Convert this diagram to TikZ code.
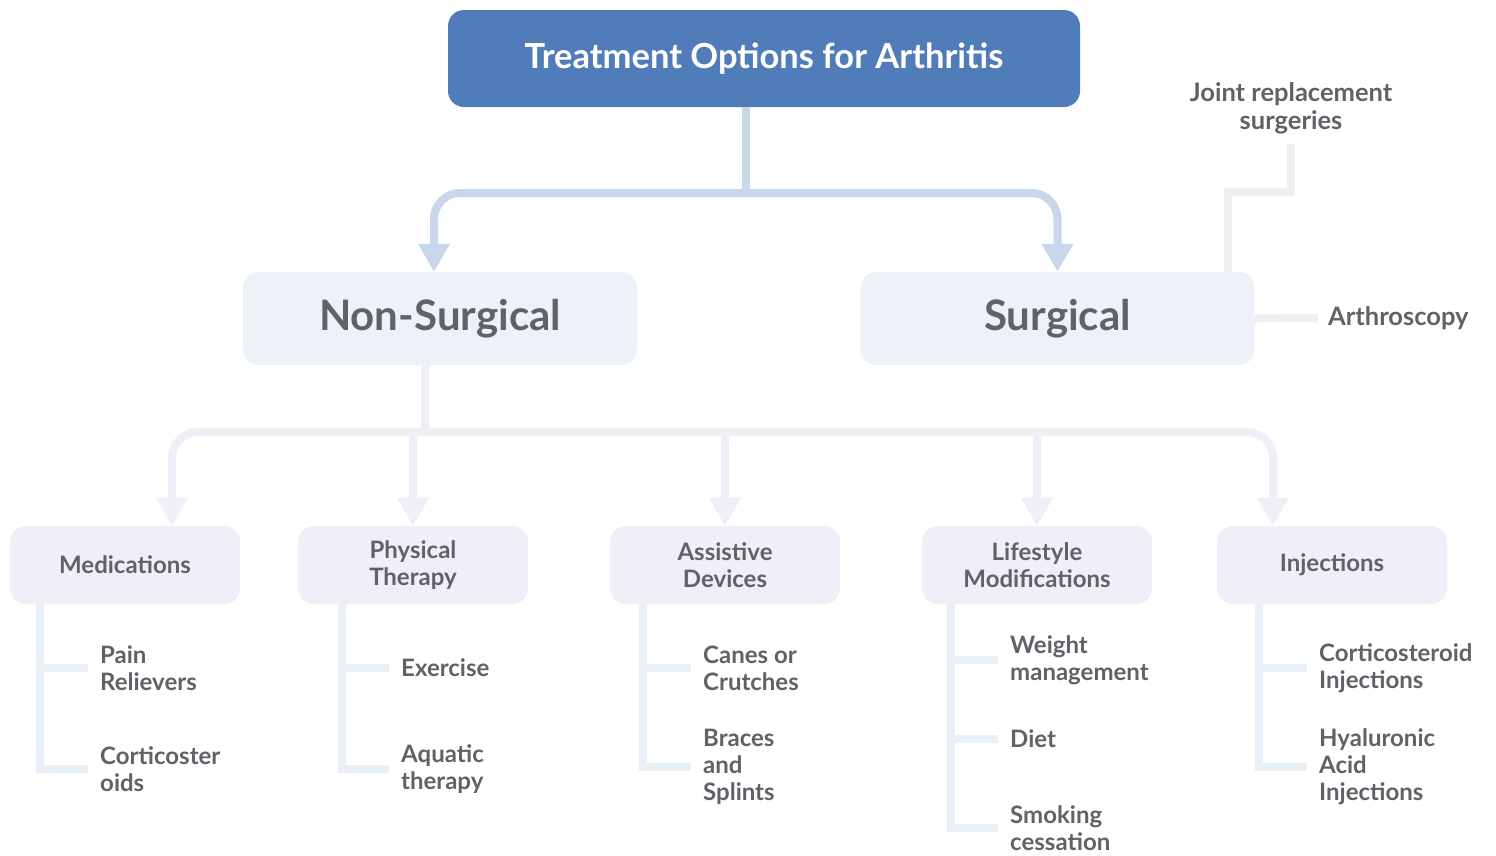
\documentclass[tikz,border=0pt]{standalone}
\usepackage{fontspec}
\setmainfont{Lato}
\usetikzlibrary{positioning,calc,arrows.meta}
\definecolor{titleblue}{HTML}{507CBA}
\definecolor{busblue}{HTML}{C8D7EA}
\definecolor{boxblue}{HTML}{EDF1F8}
\definecolor{lavender}{HTML}{F0EEF7}
\definecolor{leafblue}{HTML}{EAF0F8}
\definecolor{surgline}{HTML}{EFEFEF}
\definecolor{txtgrey}{HTML}{5F6368}
\tikzset{>={Triangle[width=30pt,length=28pt]}}

\begin{document}
\begin{tikzpicture}[x=1pt,y=-1pt,
  titlebox/.style={fill=titleblue,rounded corners=16pt,minimum width=632pt,minimum height=97pt,text=white,font=\bfseries\fontsize{34.5}{40}\selectfont},
  mainbox/.style={fill=boxblue,rounded corners=16pt,minimum width=394pt,minimum height=93pt,text=txtgrey,font=\bfseries\fontsize{42}{48}\selectfont},
  subbox/.style={fill=lavender,rounded corners=16pt,minimum width=230pt,minimum height=78pt,text=txtgrey,align=center,font=\bfseries\fontsize{24}{27}\selectfont},
  leaf/.style={anchor=west,inner sep=0pt,text=txtgrey,align=left,font=\bfseries\fontsize{24}{27}\selectfont},
  sidetxt/.style={inner sep=0pt,text=txtgrey,align=center,font=\bfseries\fontsize{25.5}{28}\selectfont},
  busline/.style={draw=busblue,line width=8pt,rounded corners=26pt},
  lavline/.style={draw=lavender,line width=8pt,rounded corners=26pt},
  leafline/.style={draw=leafblue,line width=8pt},
  greyline/.style={draw=surgline,line width=8pt}]
\useasboundingbox[fill=white] (0,0) rectangle (1496,855);

\node[titlebox] (title) at (764,58.5) {Treatment Options for Arthritis};
\node[mainbox] (nonsurg) at (440,318.5) {Non-Surgical};
\node[mainbox] (surg) at (1057.5,318.5) {Surgical};

\coordinate (top) at (746,193);
\draw[busline] (title.south -| top) -- (top);
\draw[busline,->] (top) -| ([xshift=-6pt]nonsurg.north);
\draw[busline,->] (top) -| (surg.north);

\node[sidetxt] (joint) at (1291,108) {Joint replacement\\surgeries};
\node[sidetxt,anchor=west] (arth) at (1328,318) {Arthroscopy};
\draw[greyline] ([xshift=170pt]surg.north) |- ([yshift=-58pt]joint.south) -- ([yshift=-10pt]joint.south);
\draw[greyline] (surg.east) -- ([xshift=-10pt]arth.west);

\node[subbox] (med) at (125,565) {Medications};
\node[subbox] (phys) at (413,565) {Physical\\Therapy};
\node[subbox] (assist) at (725,565) {Assistive\\Devices};
\node[subbox] (life) at (1037,565) {Lifestyle\\Modifications};
\node[subbox] (inj) at (1332,565) {Injections};

\coordinate (bus) at (425,432);
\draw[lavline] (nonsurg.south -| bus) -- (bus);
\draw[lavline,->] (bus) -| ([xshift=47pt]med.north);
\draw[lavline,->] (bus) -| ([xshift=-59pt]inj.north);
\foreach \n in {phys,assist,life}
  \draw[lavline,->] (\n.north |- bus) -- (\n.north);

\node[leaf] (pain) at (100,668) {Pain\\Relievers};
\node[leaf] (cortico) at (100,769) {Corticoster\\oids};
\node[leaf] (exer) at (401,668) {Exercise};
\node[leaf] (aqua) at (401,769) {Aquatic\\therapy};
\node[leaf] (canes) at (703,668) {Canes or\\Crutches};
\node[leaf] (braces) at (703,767) {Braces\\and\\Splints};
\node[leaf] (weight) at (1010,660) {Weight\\management};
\node[leaf] (diet) at (1010,739) {Diet};
\node[leaf] (smoke) at (1010,828) {Smoking\\cessation};
\node[leaf] (steroid) at (1319,668) {Corticosteroid\\Injections};
\node[leaf] (hyal) at (1319,767) {Hyaluronic\\Acid\\Injections};

\draw[leafline] (med.south -| 40,0) |- ([xshift=-12pt]pain.west);
\draw[leafline] (med.south -| 40,0) |- ([xshift=-12pt]cortico.west);
\draw[leafline] (phys.south -| 342,0) |- ([xshift=-12pt]exer.west);
\draw[leafline] (phys.south -| 342,0) |- ([xshift=-12pt]aqua.west);
\draw[leafline] (assist.south -| 643,0) |- ([xshift=-12pt]canes.west);
\draw[leafline] (assist.south -| 643,0) |- ([xshift=-12pt]braces.west);
\draw[leafline] (life.south -| 951,0) |- ([xshift=-12pt]weight.west);
\draw[leafline] (life.south -| 951,0) |- ([xshift=-12pt]diet.west);
\draw[leafline] (life.south -| 951,0) |- ([xshift=-12pt]smoke.west);
\draw[leafline] (inj.south -| 1259,0) |- ([xshift=-12pt]steroid.west);
\draw[leafline] (inj.south -| 1259,0) |- ([xshift=-12pt]hyal.west);
\end{tikzpicture}
\end{document}
